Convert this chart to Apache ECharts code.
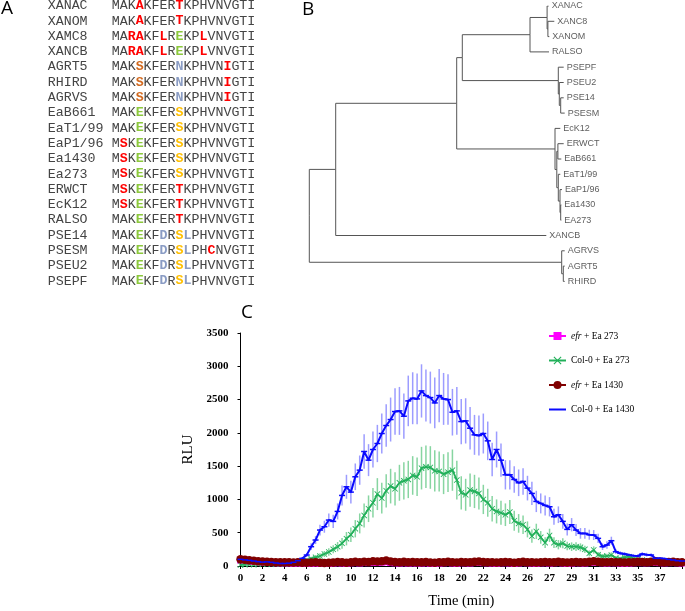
<!DOCTYPE html>
<html><head><meta charset="utf-8">
<script src="https://cdn.jsdelivr.net/npm/echarts/dist/echarts.min.js"></script>
<style>html,body{margin:0;padding:0;background:#fff}#c{width:685px;height:611px}</style>
</head><body><div id="c"></div>
<script>
// ---------- Panel C data ----------
const tickLabels = ['0','2','4','6','8','10','12','14','16','18','20','22','24','26','27','29','31','33','35','37'];
const seriesNames = ['efr + Ea 273', 'Col-0 + Ea 273', 'efr + Ea 1430', 'Col-0 + Ea 1430'];

const blue = [
100, 92, 85, 75, 65, 58, 62, 55, 45, 38,
38, 42, 55, 80, 115, 165, 290, 390, 540, 590,
690, 670, 820, 1060, 1190, 1110, 1340, 1440, 1720, 1590,
1750, 1840, 1990, 2110, 2200, 2320, 2330, 2250, 2480, 2520,
2510, 2630, 2560, 2530, 2450, 2560, 2510, 2500, 2310, 2330,
2170, 2180, 2070, 1970, 1960, 1990, 1880, 1600, 1750, 1590,
1370, 1370, 1300, 1250, 1270, 1170, 1090, 970, 940, 910,
890, 740, 770, 670, 550, 620, 540, 490, 490, 470,
465, 415, 290, 315, 380, 215, 190, 180, 165, 155,
150, 180, 170, 165, 115, 115, 110, 100, 90, 80,
75];
const blueErr = [
15, 15, 15, 15, 12, 12, 12, 12, 10, 10,
10, 10, 12, 15, 20, 30, 50, 60, 80, 90,
100, 100, 120, 150, 180, 170, 200, 220, 260, 240,
270, 280, 300, 320, 330, 350, 360, 340, 380, 390,
380, 400, 390, 390, 380, 400, 390, 380, 350, 360,
340, 340, 320, 300, 300, 300, 290, 250, 270, 250,
220, 220, 200, 200, 200, 185, 175, 160, 150, 150,
145, 120, 125, 110, 90, 100, 90, 80, 80, 75,
75, 70, 50, 55, 60, 35, 30, 30, 28, 25,
25, 30, 28, 28, 20, 20, 18, 18, 15, 15,
15];
const green = [
15, 20, 25, 20, 25, 30, 30, 25, 30, 35,
35, 40, 45, 55, 75, 90, 110, 130, 150, 180,
210, 250, 290, 340, 410, 470, 560, 640, 760, 860,
950, 1080, 1020, 1130, 1200, 1160, 1250, 1280, 1300, 1360,
1340, 1470, 1490, 1480, 1430, 1420, 1380, 1410, 1440, 1290,
1100, 1070, 1140, 1120, 1090, 1000, 950, 860, 820, 800,
770, 810, 680, 640, 620, 550, 450, 520, 430, 350,
460, 350, 320, 340, 300, 290, 290, 280, 250, 190,
240, 170, 145, 150, 165, 120, 110, 130, 140, 110,
100, 90, 80, 70, 65, 60, 55, 55, 50, 50,
45];
const greenErr = [
10, 10, 10, 10, 10, 10, 10, 10, 10, 10,
10, 10, 12, 15, 20, 25, 30, 35, 40, 45,
55, 60, 70, 80, 100, 110, 130, 150, 180, 200,
220, 240, 230, 250, 260, 250, 270, 280, 280, 290,
290, 320, 320, 320, 310, 300, 300, 300, 310, 290,
250, 240, 250, 250, 240, 220, 210, 190, 180, 180,
170, 180, 150, 140, 140, 120, 100, 115, 95, 80,
100, 80, 70, 75, 65, 65, 65, 60, 55, 45,
55, 40, 35, 35, 40, 30, 28, 30, 32, 26,
24, 22, 20, 18, 16, 15, 15, 14, 12, 12,
12];
const brown = [
100, 95, 88, 80, 72, 66, 62, 60, 58, 55,
58, 55, 52, 55, 50, 48, 52, 55, 50, 46,
48, 52, 60, 55, 50, 58, 62, 55, 65, 60,
70, 66, 72, 82, 66, 60, 58, 62, 55, 60,
58, 55, 60, 52, 50, 55, 58, 62, 55, 52,
60, 58, 55, 62, 66, 60, 58, 55, 52, 58,
60, 55, 50, 55, 62, 58, 55, 52, 58, 60,
55, 58, 62, 55, 52, 55, 60, 58, 55, 62,
70, 62, 58, 55, 60, 58, 55, 52, 55, 58,
62, 60, 58, 62, 66, 60, 58, 60, 62, 58,
55];
const magenta = [
90, 85, 78, 70, 62, 55, 52, 50, 48, 45,
48, 45, 42, 45, 40, 38, 42, 45, 40, 38,
40, 45, 50, 45, 42, 48, 52, 45, 55, 50,
55, 52, 58, 65, 52, 48, 45, 50, 45, 48,
46, 45, 50, 42, 40, 45, 48, 52, 45, 42,
50, 48, 45, 52, 55, 50, 48, 45, 42, 48,
50, 45, 40, 45, 52, 48, 45, 42, 48, 50,
45, 48, 52, 45, 42, 45, 50, 48, 45, 52,
58, 52, 48, 45, 50, 48, 45, 42, 45, 48,
52, 50, 48, 52, 55, 50, 48, 50, 52, 48,
45];
const magentaErr = [
30, 28, 25, 25, 22, 20, 20, 20, 18, 18,
20, 18, 18, 20, 18, 18, 20, 20, 18, 18,
20, 20, 22, 20, 20, 22, 22, 20, 24, 22,
24, 22, 24, 26, 22, 20, 20, 22, 20, 20,
20, 20, 22, 18, 18, 20, 20, 22, 20, 18,
22, 20, 20, 22, 24, 22, 20, 20, 18, 20,
22, 20, 18, 20, 22, 20, 20, 18, 20, 22,
20, 20, 22, 20, 18, 20, 22, 20, 20, 22,
24, 22, 20, 20, 22, 20, 20, 18, 20, 20,
22, 22, 20, 22, 24, 22, 20, 22, 22, 20,
20];

// ---------- Panel A data ----------
const alignNames = ['XANAC','XANOM','XAMC8','XANCB','AGRT5','RHIRD','AGRVS','EaB661','EaT1/99','EaP1/96','Ea1430','Ea273','ERWCT','EcK12','RALSO','PSE14','PSESM','PSEU2','PSEPF'];
const alignSeqs = [
'MAKAKFERTKPHVNVGTI','MAKAKFERTKPHVNVGTI','MARAKFLREKPLVNVGTI','MARAKFLREKPLVNVGTI',
'MAKSKFERNKPHVNIGTI','MAKSKFERNKPHVNIGTI','MAKSKFERNKPHVNIGTI',
'MAKEKFERSKPHVNVGTI','MAKEKFERSKPHVNVGTI','MSKEKFERSKPHVNVGTI','MSKEKFERSKPHVNVGTI','MSKEKFERSKPHVNVGTI',
'MSKEKFERTKPHVNVGTI','MSKEKFERTKPHVNVGTI','MAKEKFERTKPHVNVGTI',
'MAKEKFDRSLPHVNVGTI','MAKEKFDRSLPHCNVGTI','MAKEKFDRSLPHVNVGTI','MAKEKFDRSLPHVNVGTI'];
const alignMarks = [
'...r....r.........','...r....r.........','..rr..r.g..r......','..rr..r.g..r......',
'...o....b.....r...','...o....b.....r...','...o....b.....r...',
'...g....y.........','...g....y.........','.r.g....y.........','.r.g....y.........','.r.g....y.........',
'.r.g....r.........','.r.g....r.........','...g....r.........',
'...g..b.yb........','...g..b.yb..r.....','...g..b.yb........','...g..b.yb........'];

// ---------- Panel B data: [id, parent, distance from root, label] ----------
const treeNodes = [
['root', null, 0, ''],
['n5', 'root', 26.4, ''],
['n4', 'n5', 147.4, ''],
['n3', 'n4', 153, ''],
['n2', 'n3', 220.7, ''],
['n1', 'n2', 237.8, ''],
['XANAC', 'n1', 239.4, 'XANAC'],
['n1b', 'n1', 238.6, ''],
['XANC8', 'n1b', 245, 'XANC8'],
['XANOM', 'n1b', 240, 'XANOM'],
['RALSO', 'n2', 239.7, 'RALSO'],
['p', 'n3', 249, ''],
['PSEPF', 'p', 254.4, 'PSEPF'],
['p2', 'p', 250, ''],
['PSEU2', 'p2', 254.4, 'PSEU2'],
['p3', 'p2', 251.4, ''],
['PSE14', 'p3', 254.4, 'PSE14'],
['PSESM', 'p3', 255.4, 'PSESM'],
['e', 'n4', 245.7, ''],
['EcK12', 'e', 251, 'EcK12'],
['e2', 'e', 247.5, ''],
['e2a', 'e2', 248.6, ''],
['ERWCT', 'e2a', 254.4, 'ERWCT'],
['EaB661', 'e2a', 252, 'EaB661'],
['e3', 'e2', 249, ''],
['EaT1/99', 'e3', 251, 'EaT1/99'],
['e4', 'e3', 250.7, ''],
['EaP1/96', 'e4', 252.7, 'EaP1/96'],
['e5', 'e4', 251.4, ''],
['Ea1430', 'e5', 252, 'Ea1430'],
['EA273', 'e5', 252, 'EA273'],
['XANCB', 'n5', 237, 'XANCB'],
['agr', 'root', 252.4, ''],
['AGRVS', 'agr', 255.4, 'AGRVS'],
['agr2', 'agr', 254, ''],
['AGRT5', 'agr2', 255.4, 'AGRT5'],
['RHIRD', 'agr2', 255.4, 'RHIRD']];

// ---------- build ----------
const timeIdx = blue.map((_, i) => String(i));
const PER_TICK = 5;

const byId = {};
treeNodes.forEach(([id, p, d, l]) => { byId[id] = { id, p, d, l, kids: [] }; });
treeNodes.forEach(([id, p]) => { if (p) byId[p].kids.push(byId[id]); });
let leafCount = 0;
(function layout(n) {
  if (!n.kids.length) { n.y = leafCount++; return; }
  n.kids.forEach(layout);
  n.y = (n.kids[0].y + n.kids[n.kids.length - 1].y) / 2;
})(byId.root);
const treeSegs = [];
Object.values(byId).forEach(n => n.kids.forEach(c => treeSegs.push({ coords: [[n.d, n.y], [n.d, c.y], [c.d, c.y]] })));
const leafPts = Object.values(byId).filter(n => !n.kids.length).map(n => [n.d, n.y, n.l]);

const markColors = { r: '#ff0000', g: '#8cc83c', o: '#d2691e', b: '#8a9cc4', y: '#ffbf00' };
const monoBase = { fontFamily: 'Liberation Mono', fontSize: 13.3 };
const rich = { n: Object.assign({ fill: '#444' }, monoBase) };
Object.keys(markColors).forEach(k => { rich[k] = Object.assign({ fill: markColors[k], fontWeight: 'bold' }, monoBase); });
function richSeq(seq, marks) {
  let out = '', cur = null, buf = '';
  for (let i = 0; i < seq.length; i++) {
    const m = marks[i] === '.' ? 'n' : marks[i];
    if (m !== cur) { if (buf) out += '{' + cur + '|' + buf + '}'; cur = m; buf = ''; }
    buf += seq[i];
  }
  if (buf) out += '{' + cur + '|' + buf + '}';
  return out;
}
const graphics = [];
alignNames.forEach((nm, k) => {
  const y = 5.7 + 15.3 * k;
  graphics.push({ type: 'text', x: 47.7, y: y, silent: true,
    style: { text: nm, fill: '#444', fontFamily: 'Liberation Mono', fontSize: 13.3, verticalAlign: 'middle' } });
  graphics.push({ type: 'text', x: 111.7, y: y, silent: true,
    style: { text: richSeq(alignSeqs[k], alignMarks[k]), rich: rich, verticalAlign: 'middle', fontFamily: 'Liberation Mono', fontSize: 13.3 } });
});
[['A', 1, 9], ['B', 302, 10], ['C', 241, 313]].forEach(([t, x, y]) => {
  graphics.push({ type: 'text', x: x, y: y, silent: true,
    style: { text: t, fill: '#000', fontFamily: 'Open Sans', fontSize: 19, verticalAlign: 'middle' } });
});

function errBar(color, width) {
  return function (params, api) {
    const i = api.value(0);
    const a = api.coord([i, api.value(1)]);
    const b = api.coord([i, api.value(2)]);
    return { type: 'line', shape: { x1: a[0], y1: a[1], x2: b[0], y2: b[1] }, style: { stroke: color, lineWidth: width } };
  };
}
function errData(v, e) { return v.map((x, i) => [i, Math.max(0, x - e[i]), x + e[i]]); }
const errSeries = (v, e, color, w) => ({
  type: 'custom', xAxisIndex: 0, yAxisIndex: 0, renderItem: errBar(color, w), data: errData(v, e),
  encode: { x: 0, y: [1, 2] }, silent: true, clip: true
});

const X_PATH = 'path://M1,0 L5,4 L9,0 L10,1 L6,5 L10,9 L9,10 L5,6 L1,10 L0,9 L4,5 L0,1 Z';
const serif = 'Liberation Serif';

const option = {
  animation: false,
  backgroundColor: '#fff',
  graphic: graphics,
  legend: {
    data: [seriesNames[0], seriesNames[1], seriesNames[2], { name: seriesNames[3], itemStyle: { opacity: 0 } }],
    orient: 'vertical', left: 543, top: 326, itemGap: 14.5,
    itemWidth: 17, itemHeight: 10,
    textStyle: { fontFamily: serif, fontSize: 9.5, color: '#000',
      rich: { i: { fontFamily: serif, fontSize: 9.5, fontStyle: 'italic', color: '#000' },
              n: { fontFamily: serif, fontSize: 9.5, color: '#000' } } },
    formatter: nm => nm.startsWith('efr') ? '{i|efr}{n|' + nm.slice(3) + '}' : '{n|' + nm + '}'
  },
  grid: [
    { left: 240.5, right: 0.5, top: 333, bottom: 45 },
    { left: 309.3, top: 6, width: 300, height: 275.4 }
  ],
  xAxis: [
    { gridIndex: 0, type: 'category', data: timeIdx, boundaryGap: false,
      name: 'Time (min)', nameLocation: 'middle', nameGap: 28,
      nameTextStyle: { fontFamily: serif, fontSize: 14.5, color: '#000' },
      axisLine: { lineStyle: { color: '#000', width: 1 } },
      axisTick: { show: true, interval: PER_TICK - 1, length: 3, lineStyle: { color: '#000' } },
      axisLabel: { interval: PER_TICK - 1, margin: 7, fontFamily: serif, fontWeight: 'bold', fontSize: 11, color: '#000',
        formatter: (v, i) => (i % PER_TICK === 0 && tickLabels[i / PER_TICK] !== undefined) ? tickLabels[i / PER_TICK] : '' },
      splitLine: { show: false } },
    { gridIndex: 1, type: 'value', min: 0, max: 300, show: false }
  ],
  yAxis: [
    { gridIndex: 0, type: 'value', min: 0, max: 3500, interval: 500,
      name: 'RLU', nameLocation: 'middle', nameGap: 42, nameRotate: 90,
      nameTextStyle: { fontFamily: serif, fontSize: 15, color: '#000' },
      axisLine: { show: true, lineStyle: { color: '#000', width: 1 } },
      axisTick: { show: true, length: 3, lineStyle: { color: '#000' } },
      axisLabel: { margin: 12, fontFamily: serif, fontWeight: 'bold', fontSize: 11, color: '#000', formatter: v => String(v) },
      splitLine: { show: false } },
    { gridIndex: 1, type: 'value', min: 0, max: leafCount - 1, inverse: true, show: false }
  ],
  series: [
    errSeries(magenta, magentaErr, 'rgba(255,0,255,0.85)', 2),
    { name: seriesNames[0], type: 'line', data: magenta, symbol: 'rect', symbolSize: 7, showAllSymbol: true,
      itemStyle: { color: '#ff00ff' }, lineStyle: { color: '#ff00ff', width: 2 } },
    errSeries(green, greenErr, 'rgba(70,190,110,0.65)', 1.5),
    { name: seriesNames[1], type: 'line', data: green, symbol: X_PATH, symbolSize: 6, showAllSymbol: true,
      itemStyle: { color: '#22b05a' }, lineStyle: { color: '#22b05a', width: 1.8 } },
    { name: seriesNames[2], type: 'line', data: brown, symbol: 'circle', symbolSize: 8.5, showAllSymbol: true,
      itemStyle: { color: '#800000' }, lineStyle: { color: '#800000', width: 3 } },
    errSeries(blue, blueErr, 'rgba(90,90,255,0.6)', 1.5),
    { name: seriesNames[3], type: 'line', data: blue, symbol: 'rect', symbolSize: [6, 1.5], showAllSymbol: true,
      itemStyle: { color: '#0a0aff' }, lineStyle: { color: '#0a0aff', width: 2 } },
    { type: 'lines', coordinateSystem: 'cartesian2d', xAxisIndex: 1, yAxisIndex: 1, polyline: true, silent: true,
      lineStyle: { color: '#555', width: 1, opacity: 1 }, data: treeSegs },
    { type: 'scatter', xAxisIndex: 1, yAxisIndex: 1, symbolSize: 0.1, silent: true,
      itemStyle: { color: 'rgba(0,0,0,0)' }, data: leafPts,
      label: { show: true, position: 'right', distance: 3, formatter: p => p.value[2],
        fontFamily: 'Liberation Sans', fontSize: 9, color: '#333' } }
  ]
};
const chart = echarts.init(document.getElementById('c'), null, { renderer: 'canvas' });
chart.setOption(option);
</script></body></html>
